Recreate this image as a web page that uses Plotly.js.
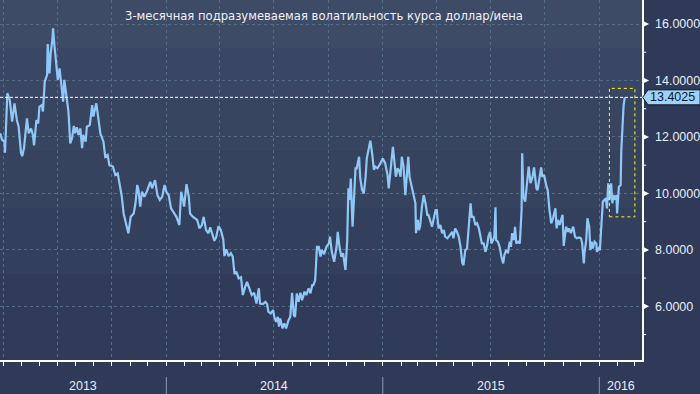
<!DOCTYPE html>
<html><head><meta charset="utf-8">
<script src="https://cdn.plot.ly/plotly-3.0.1.min.js"></script>
<style>html,body{margin:0;padding:0;background:#2e3a57;}#chart{width:700px;height:394px;}</style>
</head><body><div id="chart"></div>
<script>
const titleText = '3-месячная подразумеваемая волатильность курса доллар/иена';
const dates = ['2013-03-27','2013-03-30','2013-04-03','2013-04-04','2013-04-08','2013-04-12','2013-04-16','2013-04-20','2013-04-24','2013-04-27','2013-05-01','2013-05-03','2013-05-06','2013-05-08','2013-05-11','2013-05-14','2013-05-18','2013-05-21','2013-05-23','2013-05-27','2013-05-30','2013-06-01','2013-06-05','2013-06-07','2013-06-10','2013-06-14','2013-06-15','2013-06-18','2013-06-20','2013-06-23','2013-06-24','2013-06-26','2013-06-29','2013-07-02','2013-07-05','2013-07-07','2013-07-11','2013-07-13','2013-07-16','2013-07-20','2013-07-23','2013-07-26','2013-07-29','2013-07-31','2013-08-03','2013-08-06','2013-08-09','2013-08-12','2013-08-14','2013-08-18','2013-08-20','2013-08-25','2013-08-29','2013-08-31','2013-09-05','2013-09-08','2013-09-12','2013-09-14','2013-09-17','2013-09-20','2013-09-24','2013-09-27','2013-10-03','2013-10-07','2013-10-11','2013-10-14','2013-10-18','2013-10-21','2013-10-25','2013-10-29','2013-11-02','2013-11-07','2013-11-10','2013-11-13','2013-11-15','2013-11-18','2013-11-21','2013-11-25','2013-11-29','2013-12-05','2013-12-08','2013-12-13','2013-12-17','2013-12-21','2013-12-25','2013-12-29','2014-01-01','2014-01-05','2014-01-09','2014-01-13','2014-01-18','2014-01-23','2014-01-26','2014-01-29','2014-01-31','2014-02-04','2014-02-08','2014-02-10','2014-02-15','2014-02-22','2014-02-26','2014-03-02','2014-03-05','2014-03-09','2014-03-13','2014-03-16','2014-03-19','2014-03-23','2014-03-26','2014-03-30','2014-04-03','2014-04-07','2014-04-09','2014-04-12','2014-04-16','2014-04-20','2014-04-23','2014-04-26','2014-04-29','2014-05-03','2014-05-07','2014-05-10','2014-05-14','2014-05-17','2014-05-21','2014-05-25','2014-05-29','2014-06-02','2014-06-06','2014-06-08','2014-06-13','2014-06-17','2014-06-20','2014-06-22','2014-06-26','2014-06-30','2014-07-02','2014-07-05','2014-07-08','2014-07-10','2014-07-12','2014-07-16','2014-07-19','2014-07-22','2014-07-26','2014-07-29','2014-08-01','2014-08-04','2014-08-06','2014-08-09','2014-08-12','2014-08-15','2014-08-18','2014-08-22','2014-08-25','2014-08-29','2014-09-01','2014-09-04','2014-09-06','2014-09-09','2014-09-12','2014-09-15','2014-09-18','2014-09-20','2014-09-24','2014-09-28','2014-10-02','2014-10-04','2014-10-07','2014-10-11','2014-10-15','2014-10-17','2014-10-20','2014-10-23','2014-10-26','2014-10-28','2014-10-30','2014-11-02','2014-11-04','2014-11-06','2014-11-08','2014-11-11','2014-11-16','2014-11-18','2014-11-22','2014-11-24','2014-11-27','2014-11-30','2014-12-03','2014-12-05','2014-12-08','2014-12-11','2014-12-14','2014-12-17','2014-12-19','2014-12-23','2014-12-28','2015-01-01','2015-01-05','2015-01-09','2015-01-11','2015-01-15','2015-01-18','2015-01-20','2015-01-23','2015-01-26','2015-01-28','2015-01-31','2015-02-02','2015-02-05','2015-02-08','2015-02-11','2015-02-13','2015-02-15','2015-02-19','2015-02-22','2015-02-25','2015-02-26','2015-03-01','2015-03-03','2015-03-05','2015-03-08','2015-03-11','2015-03-14','2015-03-17','2015-03-19','2015-03-22','2015-03-25','2015-03-28','2015-03-31','2015-04-02','2015-04-05','2015-04-08','2015-04-11','2015-04-14','2015-04-16','2015-04-20','2015-04-25','2015-04-28','2015-04-30','2015-05-03','2015-05-06','2015-05-09','2015-05-12','2015-05-15','2015-05-17','2015-05-20','2015-05-23','2015-05-26','2015-05-29','2015-05-31','2015-06-03','2015-06-06','2015-06-09','2015-06-12','2015-06-14','2015-06-17','2015-06-20','2015-06-23','2015-06-26','2015-06-28','2015-07-01','2015-07-03','2015-07-06','2015-07-08','2015-07-10','2015-07-11','2015-07-14','2015-07-17','2015-07-20','2015-07-23','2015-07-25','2015-07-28','2015-07-31','2015-08-03','2015-08-05','2015-08-07','2015-08-10','2015-08-12','2015-08-14','2015-08-17','2015-08-20','2015-08-23','2015-08-24','2015-08-26','2015-08-29','2015-09-01','2015-09-04','2015-09-07','2015-09-10','2015-09-13','2015-09-17','2015-09-19','2015-09-22','2015-09-25','2015-09-27','2015-09-30','2015-10-04','2015-10-06','2015-10-09','2015-10-12','2015-10-15','2015-10-19','2015-10-21','2015-10-23','2015-10-26','2015-10-29','2015-10-31','2015-11-02','2015-11-04','2015-11-06','2015-11-09','2015-11-11','2015-11-14','2015-11-18','2015-11-21','2015-11-24','2015-11-28','2015-12-01','2015-12-03','2015-12-06','2015-12-07','2015-12-10','2015-12-12','2015-12-15','2015-12-17','2015-12-19','2015-12-21','2015-12-24','2015-12-27','2015-12-28','2015-12-31','2016-01-02','2016-01-04','2016-01-07','2016-01-10','2016-01-12','2016-01-14','2016-01-16','2016-01-18','2016-01-20','2016-01-21','2016-01-23','2016-01-25','2016-01-28','2016-01-30','2016-01-31','2016-02-03','2016-02-06','2016-02-07','2016-02-09','2016-02-11','2016-02-13'];
const vol = [12.13,11.90,11.83,11.44,13.55,13.31,12.54,13.19,12.60,12.36,11.43,11.32,11.60,12.00,12.66,12.13,12.30,12.07,11.70,12.60,12.48,13.07,13.13,12.90,13.96,14.20,15.29,14.25,14.96,15.46,15.85,15.32,14.72,14.02,14.43,13.96,13.25,14.02,13.60,12.90,11.77,11.95,12.39,12.13,12.34,12.07,12.30,11.60,12.07,11.83,12.36,12.42,13.13,12.72,13.19,12.72,12.10,12.00,11.83,11.30,11.36,11.00,10.95,10.65,10.71,10.36,9.88,9.29,8.94,8.59,9.17,9.29,9.65,10.30,10.12,9.53,10.06,9.88,10.06,10.41,10.18,10.47,9.94,9.77,9.88,10.30,10.06,9.94,9.47,9.35,9.17,8.88,10.06,9.77,9.53,10.33,9.88,9.29,9.17,9.06,8.76,8.88,9.17,8.70,8.59,8.80,8.59,8.32,8.44,8.84,8.70,8.37,7.78,8.02,7.78,7.88,7.76,7.14,7.23,6.99,7.03,6.40,6.69,6.87,6.64,6.40,6.48,6.10,6.64,6.10,6.08,6.16,6.08,5.81,5.75,5.87,5.63,5.45,5.63,5.28,5.57,5.22,5.40,5.22,5.51,5.63,6.48,5.69,5.63,6.46,6.16,6.48,6.22,6.52,6.40,6.64,6.46,6.75,6.75,6.93,8.11,8.11,7.76,8.00,7.85,8.11,8.23,8.47,7.93,7.58,8.11,8.64,8.11,7.76,7.88,7.64,7.29,8.35,10.18,9.77,10.53,8.82,10.89,10.89,11.30,10.53,10.12,10.00,10.59,11.24,11.54,11.87,11.42,10.83,10.95,10.89,11.07,11.24,11.07,10.65,10.18,11.18,11.65,11.24,10.59,10.89,10.83,10.59,11.30,10.95,9.94,10.77,11.30,10.59,10.24,9.88,9.65,8.59,9.06,8.70,8.85,9.53,9.94,9.65,9.24,9.24,9.00,8.82,9.12,9.41,9.41,8.76,8.88,8.59,8.70,8.47,8.41,8.53,8.64,8.41,8.76,8.64,8.47,8.11,7.54,7.46,7.99,8.05,8.82,9.65,9.17,9.17,8.88,8.94,8.76,8.53,8.23,8.23,7.93,8.17,8.47,8.64,8.23,8.35,8.47,9.51,8.35,8.29,8.11,7.76,7.52,7.82,7.99,7.88,8.29,8.11,8.59,8.35,8.82,8.23,8.29,8.23,9.41,11.42,9.88,9.71,10.47,10.95,10.36,10.55,10.92,10.18,10.12,10.47,10.92,10.59,10.65,10.24,10.12,9.41,8.94,9.12,9.47,8.76,9.06,8.88,9.06,9.24,8.14,8.47,8.82,8.64,8.76,8.59,8.82,8.47,8.41,8.44,8.41,8.25,7.52,7.88,8.35,9.12,8.82,7.99,8.29,8.05,8.29,8.23,7.93,8.05,7.99,8.70,9.71,9.77,9.83,9.47,10.36,9.77,9.94,10.36,9.65,9.94,9.77,9.94,9.29,10.24,10.30,11.48,12.48,13.13,13.4025];
const lastValue = 13.4025;
const lastLabel = '13.4025';
const yTickVals = [6, 8, 10, 12, 14, 16];
const yTickText = ['6.0000', '8.0000', '10.0000', '12.0000', '14.0000', '16.0000'];
const yMinorVals = [5, 7, 9, 11, 13, 15];
const quarterStarts = ['2013-04-01','2013-07-01','2013-10-01','2014-01-01','2014-04-01','2014-07-01','2014-10-01','2015-01-01','2015-04-01','2015-07-01','2015-10-01','2016-01-01'];
const monthStarts = ['2013-04-01','2013-05-01','2013-06-01','2013-07-01','2013-08-01','2013-09-01','2013-10-01','2013-11-01','2013-12-01','2014-01-01','2014-02-01','2014-03-01','2014-04-01','2014-05-01','2014-06-01','2014-07-01','2014-08-01','2014-09-01','2014-10-01','2014-11-01','2014-12-01','2015-01-01','2015-02-01','2015-03-01','2015-04-01','2015-05-01','2015-06-01','2015-07-01','2015-08-01','2015-09-01','2015-10-01','2015-11-01','2015-12-01','2016-01-01','2016-02-01','2016-03-01'];
const yearLabels = ['2013', '2014', '2015', '2016'];
const yearLabelDates = ['2013-08-14', '2014-07-02', '2015-07-02', '2016-02-07'];
const yearStarts = ['2014-01-01', '2015-01-01', '2016-01-01'];
const boxDates = ['2016-01-18', '2016-03-01'];
const boxVals = [9.17, 13.72];

const xRange = ['2013-03-26 14:00', '2016-03-13'];
const yRange = [4.10, 16.85];

const shapes = [];
const bands = [[0.867,1,'#3e4b67'],[0.72,0.867,'#3a4764'],[0.58,0.72,'#384561'],[0.42,0.58,'#36435f'],[0.239,0.42,'#33405d'],[0,0.239,'#2f3b58']];
bands.forEach(b => shapes.push({type:'rect', xref:'paper', yref:'paper', x0:0, x1:1, y0:b[0], y1:b[1], fillcolor:b[2], line:{width:0}, layer:'below'}));
yTickVals.forEach(v => shapes.push({type:'path', xref:'paper', yref:'y', path:`M 1 ${v+0.125} L 1.011 ${v} L 1 ${v-0.125} Z`, fillcolor:'#ffffff', line:{width:0}}));
yMinorVals.forEach(v => shapes.push({type:'line', xref:'paper', yref:'y', x0:1, x1:1.0065, y0:v, y1:v, line:{color:'#ffffff', width:1}}));
yearStarts.forEach(d => shapes.push({type:'line', xref:'x', yref:'paper', x0:d, x1:d, y0:-0.047, y1:-0.095, line:{color:'#8d96aa', width:1}}));
shapes.push({type:'line', xref:'paper', yref:'y', x0:0, x1:1, y0:lastValue, y1:lastValue, line:{color:'#ffffff', width:1, dash:'3px,2px'}});
shapes.push({type:'rect', xref:'x', yref:'y', x0:boxDates[0], x1:boxDates[1], y0:boxVals[0], y1:boxVals[1], line:{color:'#ffff00', width:1, dash:'dot'}});
const h = 0.266;
shapes.push({type:'path', xref:'paper', yref:'y', path:`M 1.001 ${lastValue} L 1.0093 ${lastValue+h} L 1.0905 ${lastValue+h} L 1.0905 ${lastValue-h} L 1.0093 ${lastValue-h} Z`, fillcolor:'#9fd2f8', line:{color:'#0b1426', width:1}});

const annotations = [];
annotations.push({text:titleText, xref:'paper', yref:'paper', x:0.5054, y:0.9556, xanchor:'center', yanchor:'middle', showarrow:false, font:{family:'DejaVu Sans', size:11.6, color:'#eef1f6'}});
yearLabels.forEach((t,i) => annotations.push({text:t, xref:'x', yref:'paper', x:yearLabelDates[i], y:-0.072, xanchor:'center', yanchor:'middle', showarrow:false, font:{family:'Liberation Sans', size:12.5, color:'#e8eef8'}}));
annotations.push({text:lastLabel, xref:'paper', yref:'y', x:1.0475, y:lastValue, xanchor:'center', yanchor:'middle', showarrow:false, font:{family:'Liberation Sans', size:12.5, color:'#0b1830'}});

const trace = {x:dates, y:vol, type:'scatter', mode:'lines', line:{color:'#8fc8f6', width:2.2}, hoverinfo:'skip'};

const layout = {
  width:700, height:394,
  margin:{l:0, r:58, t:0, b:34},
  paper_bgcolor:'#2e3a57', plot_bgcolor:'rgba(0,0,0,0)',
  showlegend:false,
  xaxis:{type:'date', range:xRange, tickmode:'array', tickvals:quarterStarts, showticklabels:false,
         ticks:'outside', ticklen:4, tickcolor:'#ffffff', showgrid:true, gridcolor:'#566d86', griddash:'dot', gridwidth:1,
         minor:{tickmode:'array', tickvals:monthStarts, ticks:'outside', ticklen:4, tickcolor:'#ffffff', showgrid:false},
         showline:true, linecolor:'#ffffff', linewidth:1.5, zeroline:false, fixedrange:true},
  yaxis:{side:'right', range:yRange, tickmode:'array', tickvals:yTickVals, ticktext:yTickText, ticks:'', ticklabelstandoff:9,
         tickfont:{family:'Liberation Sans', size:12.5, color:'#e8eef8'},
         showgrid:true, gridcolor:'#566d86', griddash:'dot', gridwidth:1,
         showline:true, linecolor:'#ffffff', linewidth:1.5, zeroline:false, fixedrange:true},
  shapes:shapes, annotations:annotations
};
Plotly.newPlot('chart', [trace], layout, {staticPlot:true, displayModeBar:false});
</script></body></html>
